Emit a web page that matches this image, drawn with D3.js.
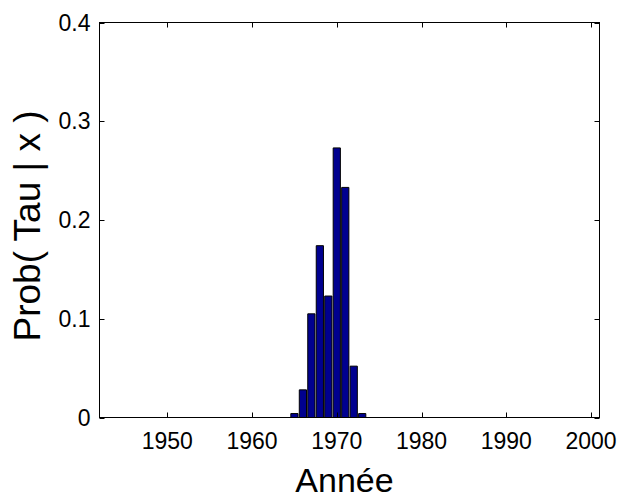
<!DOCTYPE html>
<html>
<head>
<meta charset="utf-8">
<script src="https://cdn.jsdelivr.net/npm/d3@7"></script>
<style>
  html, body { margin: 0; padding: 0; background: #fff; }
  svg { display: block; font-family: "Liberation Sans", Arial, sans-serif; }
</style>
</head>
<body>
<svg id="chart" width="625" height="501"></svg>
<script>
const years = [1943,1944,1945,1946,1947,1948,1949,1950,1951,1952,1953,1954,1955,1956,1957,1958,1959,
  1960,1961,1962,1963,1964,1965,1966,1967,1968,1969,1970,1971,1972,1973,1974,1975,1976,1977,1978,1979,
  1980,1981,1982,1983,1984,1985,1986,1987,1988,1989,1990,1991,1992,1993,1994,1995,1996,1997,1998,1999,2000];
const probs = [0,0,0,0,0,0,0,0,0,0,0,0,0,0,0,0,0,
  0,0,0,0,0,0.004,0.028,0.105,0.174,0.123,0.273,0.233,0.052,0.004,0,0,0,0,0,0,
  0,0,0,0,0,0,0,0,0,0,0,0,0,0,0,0,0,0,0,0,0];
const xTicks = [1950,1960,1970,1980,1990,2000];
const yTicks = [0,0.1,0.2,0.3,0.4];
const yTickLabels = ["0","0.1","0.2","0.3","0.4"];
const xLabel = "Année";
const yLabel = "Prob( Tau | x )";

const svg = d3.select("#chart");
const L = 99.5, R = 599.5, T = 22.5, B = 417.5;
const x = d3.scaleLinear().domain([1942, 2001]).range([L, R]);
const y = d3.scaleLinear().domain([0, 0.4]).range([B, T]);
const barW = 0.85;

// bars
svg.append("g").selectAll("path").data(years.map((yr, i) => ({yr, v: probs[i]})))
  .join("path")
  .attr("d", d => {
    const x0 = x(d.yr - barW / 2), x1 = x(d.yr + barW / 2);
    const y0 = y(0), y1 = y(d.v);
    return `M${x0},${y0}V${y1}H${x1}V${y0}Z`;
  })
  .attr("fill", "#00008f")
  .attr("stroke", "#000")
  .attr("stroke-width", 1);

// box
svg.append("rect").attr("x", L).attr("y", T).attr("width", R - L).attr("height", B - T)
  .attr("fill", "none").attr("stroke", "#000").attr("stroke-width", 1);

// x ticks (inward, bottom and top)
const tl = 5;
const gx = svg.append("g");
xTicks.forEach(t => {
  const px = Math.round(x(t)) + 0.5;
  gx.append("line").attr("x1", px).attr("x2", px).attr("y1", B).attr("y2", B - tl).attr("stroke", "#000");
  gx.append("line").attr("x1", px).attr("x2", px).attr("y1", T).attr("y2", T + tl).attr("stroke", "#000");
  gx.append("text").attr("x", x(t)).attr("y", B + 31).attr("text-anchor", "middle")
    .attr("font-size", 23).text(t);
});

// y ticks
const gy = svg.append("g");
yTicks.forEach((t, i) => {
  const py = Math.round(y(t)) + 0.5;
  gy.append("line").attr("x1", L).attr("x2", L + tl).attr("y1", py).attr("y2", py).attr("stroke", "#000");
  gy.append("line").attr("x1", R).attr("x2", R - tl).attr("y1", py).attr("y2", py).attr("stroke", "#000");
  gy.append("text").attr("x", L - 9).attr("y", y(t)).attr("dy", "0.35em").attr("text-anchor", "end")
    .attr("font-size", 23).text(yTickLabels[i]);
});

// labels
svg.append("text").attr("x", (L + R) / 2 - 5).attr("y", 492).attr("text-anchor", "middle")
  .attr("font-size", 34).text(xLabel);
svg.append("text").attr("transform", `translate(40,${(T + B) / 2 + 6}) rotate(-90)`)
  .attr("text-anchor", "middle").attr("font-size", 37).text(yLabel);
</script>
</body>
</html>
